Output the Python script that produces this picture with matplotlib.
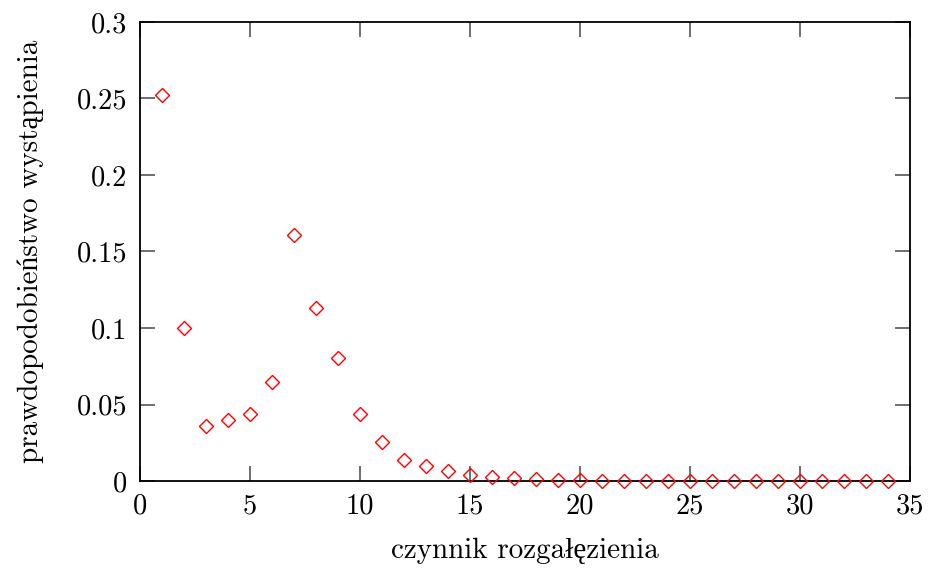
import numpy as np
import matplotlib
matplotlib.use("Agg")
from matplotlib import pyplot as plt

# czynnik rozgalezienia vs prawdopodobienstwo
branching = list(range(1, 35))
prob = [0.252, 0.100, 0.036, 0.0396, 0.0435, 0.0648, 0.1605, 0.113, 0.0807, 0.0439,
        0.0256, 0.0137, 0.0096, 0.0065, 0.0041, 0.0028, 0.0017, 0.0011, 0.0007, 0.0004,
        0.0002, 0.0001, 0.0001, 0.0, 0.0, 0.0, 0.0, 0.0, 0.0, 0.0,
        0.0, 0.0, 0.0, 0.0]

xticks = [0, 5, 10, 15, 20, 25, 30, 35]
yticks = [0, 0.05, 0.1, 0.15, 0.2, 0.25, 0.3]
yticklabels = ['0', '0.05', '0.1', '0.15', '0.2', '0.25', '0.3']

plt.rcParams['font.family'] = ['cmr10', 'Liberation Serif']
plt.rcParams['axes.formatter.use_mathtext'] = True

fig = plt.figure(figsize=(9.32, 5.71), dpi=100)
ax = fig.add_axes([0.1502, 0.1576, 0.8262, 0.8039])

ax.plot(branching, prob, linestyle='none', marker='D', markersize=7,
        markerfacecolor='none', markeredgecolor='#ff0000', markeredgewidth=1.0,
        clip_on=False, zorder=3)

ax.set_xlim(0, 35)
ax.set_ylim(0, 0.3)
ax.set_xticks(xticks)
ax.set_xticklabels([str(t) for t in xticks])
ax.set_yticks(yticks)
ax.set_yticklabels(yticklabels)

ax.tick_params(direction='in', length=11, width=1.2, color='#555555',
               top=True, right=True, labelsize=20.5, pad=9)
for s in ax.spines.values():
    s.set_linewidth(1.3)
    s.set_color('black')

ax.set_xlabel('czynnik rozgałęzienia', fontsize=21, labelpad=13)
ax.set_ylabel('prawdopodobieństwo wystąpienia', fontsize=21, labelpad=24)

fig.savefig('out.png', dpi=100)
